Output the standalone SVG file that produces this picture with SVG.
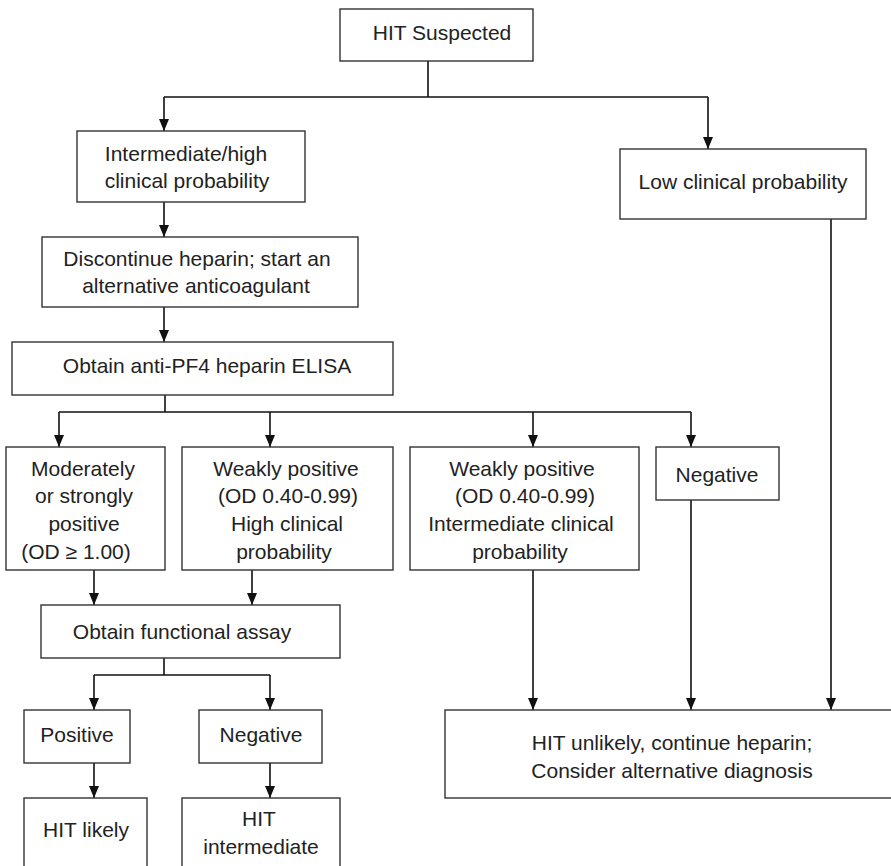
<svg xmlns="http://www.w3.org/2000/svg" width="891" height="866" viewBox="0 0 891 866">
<style>
.box{fill:#fff;stroke:#333;stroke-width:1.4}
.t{font-family:"Liberation Sans",Arial,Helvetica,sans-serif;font-size:21px;fill:#222;text-anchor:middle}
.c{fill:none;stroke:#111;stroke-width:1.6}
</style>
<defs>
<marker id="ah" markerUnits="userSpaceOnUse" markerWidth="12" markerHeight="12" viewBox="0 0 12 12" refX="12" refY="6" orient="auto">
<path d="M0,1 L12,6 L0,11 Z" fill="#111"/>
</marker>
</defs>
<rect width="891" height="866" fill="#fff"/>
<g id="connectors">
<path class="c" d="M428,61 V97"/>
<path class="c" d="M164,97 H708"/>
<path class="c" d="M164,97 V131" marker-end="url(#ah)"/>
<path class="c" d="M708,97 V149" marker-end="url(#ah)"/>
<path class="c" d="M164,202 V237" marker-end="url(#ah)"/>
<path class="c" d="M164,307 V342" marker-end="url(#ah)"/>
<path class="c" d="M165,395 V412"/>
<path class="c" d="M59,412 H691"/>
<path class="c" d="M59,412 V447" marker-end="url(#ah)"/>
<path class="c" d="M270,412 V447" marker-end="url(#ah)"/>
<path class="c" d="M533,412 V447" marker-end="url(#ah)"/>
<path class="c" d="M691,412 V447" marker-end="url(#ah)"/>
<path class="c" d="M94,570 V605" marker-end="url(#ah)"/>
<path class="c" d="M252,570 V605" marker-end="url(#ah)"/>
<path class="c" d="M164,658 V675"/>
<path class="c" d="M94,675 H270"/>
<path class="c" d="M94,675 V710" marker-end="url(#ah)"/>
<path class="c" d="M270,675 V710" marker-end="url(#ah)"/>
<path class="c" d="M94,763 V798" marker-end="url(#ah)"/>
<path class="c" d="M270,763 V798" marker-end="url(#ah)"/>
<path class="c" d="M533,570 V710" marker-end="url(#ah)"/>
<path class="c" d="M691,500 V710" marker-end="url(#ah)"/>
<path class="c" d="M831,219 V710" marker-end="url(#ah)"/>
</g>
<g id="hit-suspected">
<rect class="box" x="340" y="9" width="193" height="52"/>
<text class="t" x="442" y="40">HIT Suspected</text>
</g>
<g id="intermediate-high">
<rect class="box" x="77" y="131" width="228" height="71"/>
<text class="t" x="186" y="161">Intermediate/high</text>
<text class="t" x="187" y="188">clinical probability</text>
</g>
<g id="low-clinical">
<rect class="box" x="620" y="149" width="246" height="70"/>
<text class="t" x="743" y="189">Low clinical probability</text>
</g>
<g id="discontinue">
<rect class="box" x="42" y="237" width="316" height="70"/>
<text class="t" x="197" y="266">Discontinue heparin; start an</text>
<text class="t" x="196" y="293">alternative anticoagulant</text>
</g>
<g id="elisa">
<rect class="box" x="12" y="342" width="381" height="53"/>
<text class="t" x="207" y="373">Obtain anti-PF4 heparin ELISA</text>
</g>
<g id="moderately-positive">
<rect class="box" x="6" y="447" width="159" height="123"/>
<text class="t" x="83" y="476">Moderately</text>
<text class="t" x="84" y="503">or strongly</text>
<text class="t" x="84" y="531">positive</text>
<text class="t" x="76" y="559">(OD ≥ 1.00)</text>
</g>
<g id="weakly-high">
<rect class="box" x="182" y="447" width="211" height="123"/>
<text class="t" x="286" y="476">Weakly positive</text>
<text class="t" x="288" y="503">(OD 0.40-0.99)</text>
<text class="t" x="287" y="531">High clinical</text>
<text class="t" x="284" y="559">probability</text>
</g>
<g id="weakly-intermediate">
<rect class="box" x="410" y="447" width="229" height="123"/>
<text class="t" x="522" y="476">Weakly positive</text>
<text class="t" x="525" y="503">(OD 0.40-0.99)</text>
<text class="t" x="521" y="531">Intermediate clinical</text>
<text class="t" x="520" y="559">probability</text>
</g>
<g id="negative-elisa">
<rect class="box" x="656" y="447" width="123" height="53"/>
<text class="t" x="717" y="482">Negative</text>
</g>
<g id="functional-assay">
<rect class="box" x="41" y="605" width="299" height="53"/>
<text class="t" x="182" y="639">Obtain functional assay</text>
</g>
<g id="positive">
<rect class="box" x="24" y="710" width="106" height="53"/>
<text class="t" x="77" y="742">Positive</text>
</g>
<g id="negative-functional">
<rect class="box" x="199" y="710" width="123" height="53"/>
<text class="t" x="261" y="742">Negative</text>
</g>
<g id="hit-likely">
<rect class="box" x="24" y="798" width="123" height="80"/>
<text class="t" x="86" y="837">HIT likely</text>
</g>
<g id="hit-intermediate">
<rect class="box" x="182" y="798" width="158" height="80"/>
<text class="t" x="259" y="826">HIT</text>
<text class="t" x="261" y="854">intermediate</text>
</g>
<g id="hit-unlikely">
<rect class="box" x="445" y="710" width="460" height="88"/>
<text class="t" x="672" y="750">HIT unlikely, continue heparin;</text>
<text class="t" x="672" y="778">Consider alternative diagnosis</text>
</g>
</svg>
